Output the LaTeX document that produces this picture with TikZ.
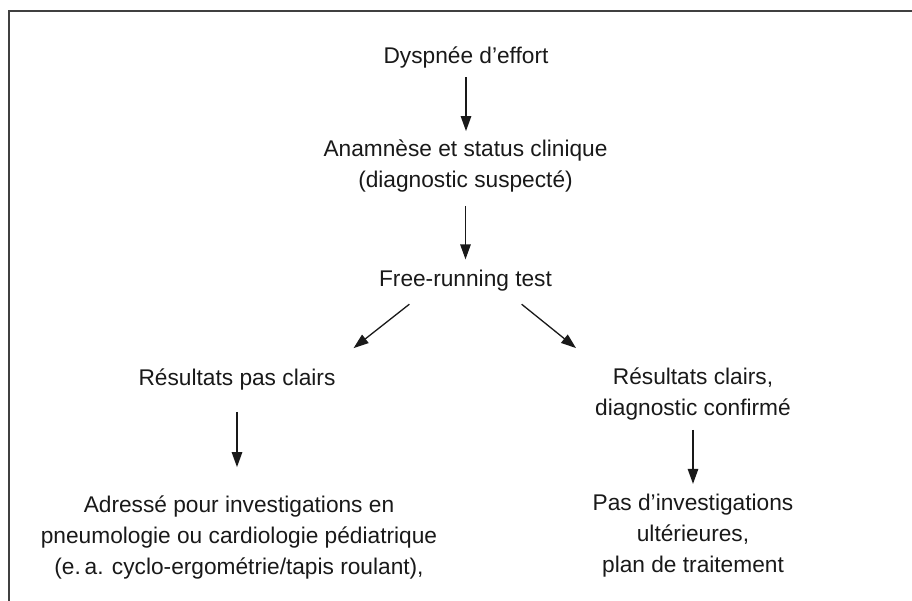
\documentclass[tikz,border=0pt]{standalone}
\usepackage{fontspec}
\setmainfont{Liberation Sans}
\usetikzlibrary{arrows.meta}
\tikzset{
  txt/.style={inner sep=0pt, anchor=base, align=center, text=black!90,
    font=\fontsize{22.7}{31}\selectfont},
  arr/.style={line width=1.3pt, draw=black!90, -{Triangle[length=15pt,width=10.5pt]}},
  frame/.style={line width=1.5pt, draw=black!75}
}
\begin{document}
\begin{tikzpicture}[x=1pt,y=-1pt]
\useasboundingbox (0,0) rectangle (912,601);
\draw[frame] (9,601) -- (9,11) -- (912,11);

% anchor=base is the baseline of the last line
\node[txt] (A) at (466,64) {Dyspnée d’effort};
\node[txt] (B) at (465.5,188) {Anamnèse et status clinique\\(diagnostic suspecté)};
\node[txt] (C) at (465.5,287) {Free-running test};
\node[txt] (D) at (237,385) {Résultats pas clairs};
\node[txt] (E) at (693,415) {Résultats clairs,\\diagnostic confirmé};
\node[txt] (F) at (239,574) {Adressé pour investigations en\\pneumologie ou cardiologie pédiatrique\\(e.\,a. cyclo-ergométrie/tapis roulant),};
\node[txt] (G) at (693,572) {Pas d’investigations\\ultérieures,\\plan de traitement};

\draw[arr, shorten <=8.3pt, shorten >=9pt] (A.south) -- (A.south |- B.north);
\draw[arr, shorten <=13pt, shorten >=11pt] (B.south) -- (B.south |- C.north);
\draw[arr] ([shift={(30.5,12.3)}]C.south west) -- ([shift={(18,-20)}]D.north east);
\draw[arr] ([shift={(-30.5,12.3)}]C.south east) -- ([shift={(-19,-19)}]E.north west);
\draw[arr, shorten <=22pt, shorten >=28pt] (D.south) -- (D.south |- F.north);
\draw[arr, shorten <=10pt, shorten >=9.5pt] (E.south) -- (E.south |- G.north);
\end{tikzpicture}
\end{document}
